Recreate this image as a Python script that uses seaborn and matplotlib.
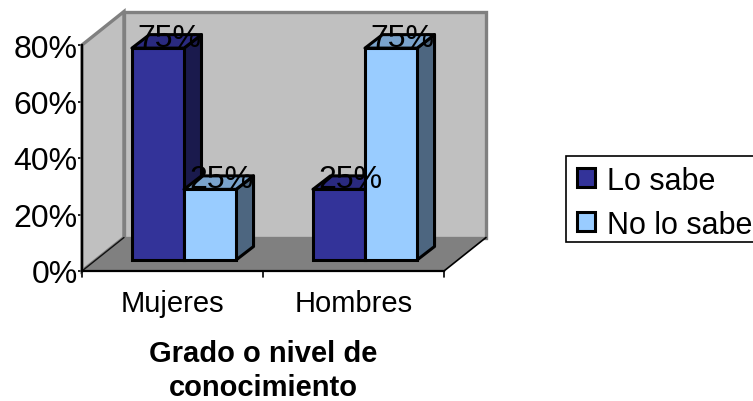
import matplotlib
matplotlib.use("Agg")
import matplotlib.pyplot as plt
import pandas as pd
import seaborn as sns
from matplotlib.patches import Polygon, Patch, Rectangle
from matplotlib.transforms import Affine2D

categories = ["Mujeres", "Hombres"]
lo_sabe = [75, 25]
no_lo_sabe = [25, 75]
series_names = ["Lo sabe", "No lo sabe"]
y_ticks = [0, 20, 40, 60, 80]

FRONT = {"Lo sabe": "#333399", "No lo sabe": "#99CCFF"}
SIDE = {"Lo sabe": "#1A1A4D", "No lo sabe": "#4D6680"}
TOP = {"Lo sabe": "#2A2A80", "No lo sabe": "#7AA3CC"}

sns.set_style("white")
plt.rcParams["font.family"] = ["Liberation Sans", "DejaVu Sans"]
plt.rcParams["text.color"] = "black"
plt.rcParams["axes.labelcolor"] = "black"
plt.rcParams["xtick.labelcolor"] = "black"
plt.rcParams["ytick.labelcolor"] = "black"
W, H = 753, 402
fig = plt.figure(figsize=(W / 100, H / 100), dpi=100)
ax = fig.add_axes([82 / W, (H - 272) / H, 362 / W, 226 / H])

df = pd.DataFrame({
    "cat": categories * 2,
    "serie": [series_names[0]] * 2 + [series_names[1]] * 2,
    "val": lo_sabe + no_lo_sabe,
})
sns.barplot(data=df, x="cat", y="val", hue="serie", order=categories,
            hue_order=series_names, palette=FRONT, width=0.575, gap=0,
            saturation=1, edgecolor="black", linewidth=2.2, legend=False,
            zorder=5, ax=ax)
ax.set_xlim(-0.5, 1.5)
ax.set_ylim(0, 80)
ax.set_yticks(y_ticks)
ax.set_yticklabels([f"{v}%" for v in y_ticks])
ax.set_xticks([0, 1])
ax.set_xticklabels(categories)
ax.set_ylabel("")
ax.set_xlabel("Grado o nivel de\nconocimiento", fontsize=21, fontweight="bold",
              labelpad=16, linespacing=1.25, color="black")

FS = 23
ax.tick_params(axis="y", labelsize=FS, length=3, width=1.2, left=True, pad=0, color="black",
               labelcolor="black")
ax.tick_params(axis="x", labelsize=21, length=0, pad=13, labelcolor="black")
for x in [-0.5, 0.5, 1.5]:
    ax.plot([x, x], [0, -6 / 2.825], color="black", lw=1.2, clip_on=False, zorder=9)
for s in ["top", "right"]:
    ax.spines[s].set_visible(False)
for s in ["left", "bottom"]:
    ax.spines[s].set_color("black")
    ax.spines[s].set_linewidth(1.6)
    ax.spines[s].set_zorder(8)
ax.patch.set_alpha(0)

# pixel scale of the data axes, used for the oblique depth
PX, PY = 181.0, 226 / 80
wall_dx, wall_dy = 42 / PX, 33.5 / PY
x0, x1 = -0.5, 1.5
ymax = 80
wall = dict(clip_on=False, zorder=1)
ax.add_patch(Polygon([(x0, 0), (x0, ymax), (x0 + wall_dx, ymax + wall_dy), (x0 + wall_dx, wall_dy)],
                     fc="#C0C0C0", ec="#808080", lw=2.4, **wall))
ax.add_patch(Polygon([(x0 + wall_dx, wall_dy), (x0 + wall_dx, ymax + wall_dy),
                      (x1 + wall_dx, ymax + wall_dy), (x1 + wall_dx, wall_dy)],
                     fc="#C0C0C0", ec="#808080", lw=2.4, **wall))
ax.add_patch(Polygon([(x0, 0), (x0 + wall_dx, wall_dy), (x1 + wall_dx, wall_dy), (x1, 0)],
                     fc="#808080", ec="none", clip_on=False, zorder=2))
ax.plot([x0, x0 + wall_dx], [0, wall_dy], color="#111111", lw=1, clip_on=False, zorder=3)
ax.plot([x1, x1 + wall_dx], [0, wall_dy], color="black", lw=1.2, clip_on=False, zorder=3)

# bars sit in the middle of the floor depth
shift = Affine2D().translate(11.5, 11)
t = ax.transData + shift
bar_dx, bar_dy = 17.5 / PX, 13.5 / PY
z = 5.0
for name, cont in zip(series_names, ax.containers):
    for bar in cont:
        x, w, h = bar.get_x(), bar.get_width(), bar.get_height()
        bar.set_transform(t)
        bar.set_clip_on(False)
        bar.set_zorder(z + 0.2)
        side = Polygon([(x + w, 0), (x + w, h), (x + w + bar_dx, h + bar_dy), (x + w + bar_dx, bar_dy)],
                       fc=SIDE[name], ec="black", lw=2.2, joinstyle="round", transform=t,
                       clip_on=False, zorder=z)
        top = Polygon([(x, h), (x + w, h), (x + w + bar_dx, h + bar_dy), (x + bar_dx, h + bar_dy)],
                      fc=TOP[name], ec="black", lw=2.2, joinstyle="round", transform=t,
                      clip_on=False, zorder=z)
        ax.add_patch(side)
        ax.add_patch(top)
        ax.annotate(f"{h:.0f}%", (x + w / 2, h), xycoords=t, xytext=(8, 7.5),
                    textcoords="offset points", ha="center", va="center",
                    fontsize=FS, color="black", zorder=20, annotation_clip=False)
    z += 1

# legend frame runs off the right edge, as in the reference
fig.add_artist(Rectangle((566 / W, (H - 243) / H), 200 / W, 86 / H, transform=fig.transFigure,
                         fc="white", ec="black", lw=1.2, zorder=1, clip_on=True))
handles = [Patch(fc=FRONT[n], ec="black", lw=2.2) for n in series_names]
leg = fig.legend(handles, series_names, loc="upper left",
                 bbox_to_anchor=(567 / W, (H - 157) / H), fontsize=22,
                 frameon=False,
                 handlelength=0.58, handleheight=0.58, handletextpad=0.42,
                 labelspacing=0.45, borderpad=0.32, borderaxespad=0, labelcolor="black")
leg.set_zorder(5)

fig.savefig("out.png", dpi=100, facecolor="white")
